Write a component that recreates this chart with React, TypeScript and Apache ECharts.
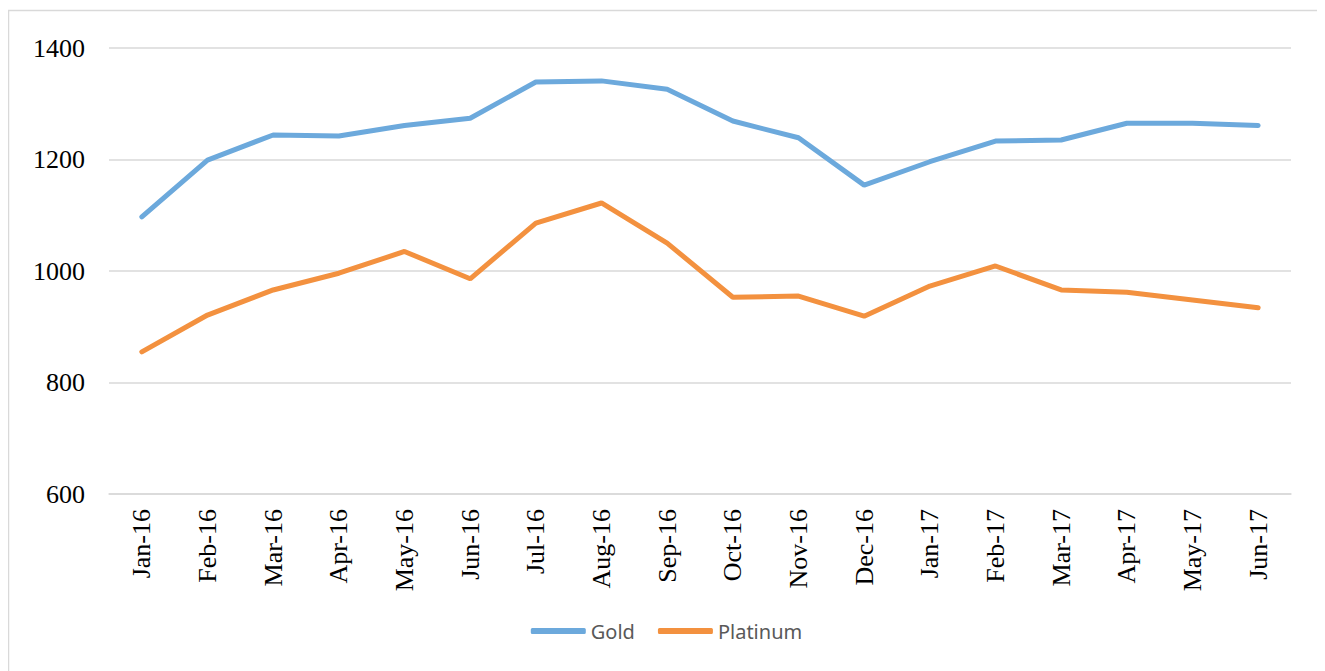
import React, { useEffect, useRef } from "react";
import * as echarts from "echarts";

const categories = [
  "Jan-16", "Feb-16", "Mar-16", "Apr-16", "May-16", "Jun-16",
  "Jul-16", "Aug-16", "Sep-16", "Oct-16", "Nov-16", "Dec-16",
  "Jan-17", "Feb-17", "Mar-17", "Apr-17", "May-17", "Jun-17",
];
const gold = [1097, 1199, 1244, 1242, 1261, 1274, 1339, 1341, 1326, 1269, 1239, 1154, 1196, 1233, 1235, 1265, 1265, 1261];
const platinum = [855, 921, 966, 996, 1035, 986, 1086, 1122, 1050, 953, 955, 919, 973, 1009, 966, 962, 948, 934];
const yMin = 600;
const yMax = 1400;
const yStep = 200;

export default function App() {
  const ref = useRef<HTMLDivElement>(null);
  useEffect(() => {
    if (!ref.current) return;
    const chart = echarts.init(ref.current, undefined, { renderer: "svg" });
    chart.setOption({
      animation: false,
      backgroundColor: "#ffffff",
      graphic: [
        {
          type: "rect",
          shape: { x: 0.5, y: 2.5, width: 1315, height: 680 },
          style: { fill: "none", stroke: "#d9d9d9", lineWidth: 1.5 },
          silent: true,
        },
      ],
      grid: { left: 101, right: 34, top: 40, bottom: 177, containLabel: false },
      legend: {
        top: 608,
        left: "center",
        icon: "roundRect",
        itemWidth: 55,
        itemHeight: 6,
        itemGap: 23,
        textStyle: { fontFamily: "Noto Sans", fontSize: 20, color: "#595959" },
        data: ["Gold", "Platinum"],
      },
      xAxis: {
        type: "category",
        data: categories,
        boundaryGap: true,
        axisLine: { show: true, lineStyle: { color: "#d9d9d9", width: 1.5 } },
        axisTick: { show: false },
        axisLabel: {
          rotate: 90,
          margin: 15,
          interval: 0,
          fontFamily: "Liberation Serif",
          fontSize: 26,
          color: "#000000",
        },
      },
      yAxis: {
        type: "value",
        min: yMin,
        max: yMax,
        interval: yStep,
        axisLine: { show: false },
        axisTick: { show: false },
        splitLine: { lineStyle: { color: "#d9d9d9", width: 1.5 } },
        axisLabel: {
          margin: 24,
          fontFamily: "Liberation Serif",
          fontSize: 26,
          color: "#000000",
          formatter: (v: number) => String(v),
        },
      },
      series: [
        {
          name: "Gold",
          type: "line",
          data: gold,
          symbol: "none",
          lineStyle: { width: 5, color: "#6CA9DC", cap: "round" },
          itemStyle: { color: "#6CA9DC" },
        },
        {
          name: "Platinum",
          type: "line",
          data: platinum,
          symbol: "none",
          lineStyle: { width: 5, color: "#F3913F", cap: "round" },
          itemStyle: { color: "#F3913F" },
        },
      ],
    });
    return () => chart.dispose();
  }, []);
  return <div ref={ref} style={{ width: 1317, height: 663 }} />;
}
